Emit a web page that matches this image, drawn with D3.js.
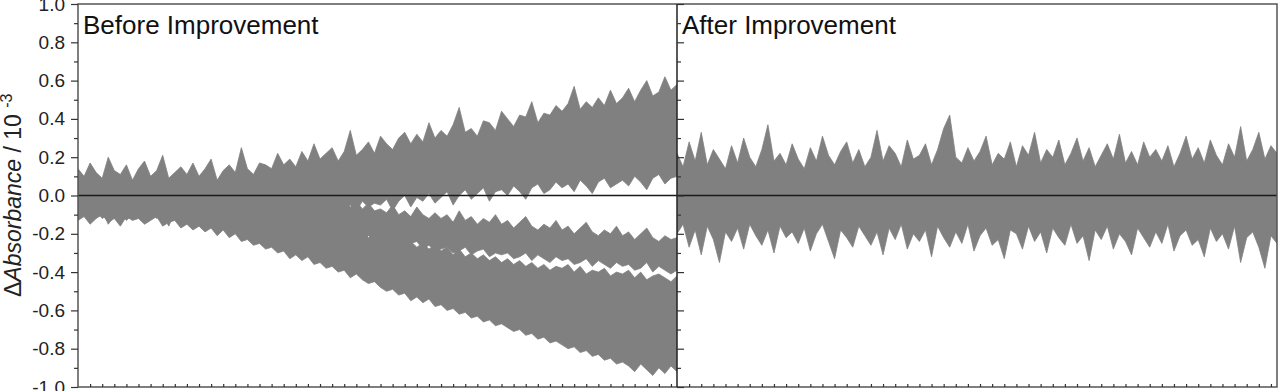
<!DOCTYPE html>
<html>
<head>
<meta charset="utf-8">
<script src="https://cdn.jsdelivr.net/npm/d3@7"></script>
<style>
  html, body { margin: 0; padding: 0; background: #fff; }
  svg { display: block; font-family: "Liberation Sans", Arial, sans-serif; }
</style>
</head>
<body>
<div id="page"></div>
<script>
// panel titles and axis ticks
var panelTitles = [ "Before Improvement", "After Improvement" ];
var yMajorTicks = [ -1.0, -0.8, -0.6, -0.4, -0.2, 0.0, 0.2, 0.4, 0.6, 0.8, 1.0 ];
var yMinorTicks = [ -0.9, -0.7, -0.5, -0.3, -0.1, 0.1, 0.3, 0.5, 0.7, 0.9 ];

// band edges, 100 samples per panel, in 1/100 of the axis unit
// before: upper group of traces
var beforeUpHi = [
  14,10,17,12,9,20,13,11,16,8, 14,18,10,13,21,9,12,15,11,17,
  10,14,19,8,13,16,12,25,14,11, 17,16,14,22,16,19,15,23,18,27,
  19,22,25,18,23,34,21,24,28,22, 31,27,24,30,33,27,32,28,38,30,
  34,31,37,46,33,35,31,39,38,34, 44,40,36,42,41,49,38,43,42,47,
  44,48,57,45,49,46,51,47,55,48, 51,56,49,55,60,52,54,62,55,58 ];
var beforeUpLo = [
  -12,-9,-14,-10,-8,-15,-11,-9,-13,-10, -11,-14,-8,-12,-10,-16,-9,-12,-11,-13,
  -10,-13,-9,-15,-11,-12,-8,-14,-10,-12, -9,-13,-8,-11,-7,-12,-9,-6,-10,-8,
  -7,-11,-6,-4,-9,-5,-8,-3,-6,-4, -5,-2,-8,-3,0,-6,-1,-3,1,-4,
  -1,2,-5,0,3,-2,1,4,-3,2, 3,0,5,2,-2,4,6,1,3,7,
  4,6,2,8,5,1,7,9,4,6, 8,5,10,7,3,9,11,6,9,10 ];
// before: lower group, top trace
var beforeMidHi = [
  -3,-1,-4,-2,0,-3,-2,-1,-4,-2, -2,-4,-1,-3,-2,0,-3,-2,-1,-4,
  -2,-3,-1,-4,-2,-3,-1,-2,-4,-3, 3,1,4,0,2,0,-2,1,-3,-1,
  -3,0,-5,-2,-4,-6,-3,-7,-4,-8, -7,-9,-5,-10,-8,-11,-6,-10,-12,-9,
  -12,-10,-14,-8,-13,-11,-15,-12,-14,-10, -15,-13,-17,-14,-11,-16,-18,-15,-17,-13,
  -18,-16,-20,-17,-14,-19,-21,-18,-20,-16, -21,-19,-23,-20,-17,-22,-24,-21,-23,-22 ];
var beforeMidLo = [
  -10,-9,-11,-8,-12,-10,-9,-11,-10,-8, -11,-10,-12,-9,-10,-11,-8,-12,-10,-9,
  -12,-10,-13,-11,-9,-12,-10,-14,-11,-12, -13,-12,-15,-14,-17,-15,-18,-16,-19,-17,
  -19,-18,-21,-19,-23,-20,-22,-24,-21,-23, -24,-22,-26,-23,-27,-25,-24,-28,-26,-29,
  -28,-27,-30,-29,-27,-31,-29,-28,-32,-30, -31,-30,-33,-32,-30,-34,-31,-33,-35,-32,
  -34,-33,-36,-35,-33,-37,-34,-36,-38,-35, -37,-36,-39,-38,-35,-40,-37,-39,-41,-39 ];
// before: lower group, bulk of traces
var beforeLowHi = [
  -2,-4,-1,-3,-5,-2,-3,-1,-4,-2, -3,-5,-2,-4,-3,-6,-2,-4,-5,-3,
  -4,-6,-3,-5,-7,-5,-8,-6,-9,-7, -9,-11,-8,-12,-10,-13,-11,-15,-12,-14,
  -16,-13,-18,-15,-19,-17,-21,-18,-22,-20, -23,-21,-25,-22,-26,-24,-27,-25,-28,-26,
  -29,-27,-31,-28,-32,-30,-33,-31,-34,-32, -35,-33,-36,-34,-37,-35,-38,-36,-39,-37,
  -38,-36,-40,-37,-41,-39,-40,-38,-42,-40, -41,-39,-43,-40,-44,-42,-41,-43,-45,-42 ];
var beforeLowLo = [
  -13,-11,-15,-12,-10,-14,-12,-16,-11,-13, -12,-15,-13,-11,-16,-14,-13,-17,-15,-18,
  -16,-19,-17,-21,-18,-22,-20,-24,-23,-26, -25,-28,-27,-30,-29,-33,-31,-34,-32,-36,
  -35,-38,-37,-40,-39,-43,-41,-44,-46,-45, -48,-50,-49,-52,-51,-55,-53,-56,-54,-58,
  -57,-60,-59,-62,-61,-64,-63,-66,-65,-68, -67,-69,-71,-70,-73,-72,-75,-74,-77,-76,
  -78,-80,-79,-82,-81,-84,-83,-86,-85,-88, -87,-89,-92,-88,-91,-94,-90,-93,-89,-92 ];
// after: all traces
var afterHi = [
  22,15,28,18,33,16,24,19,14,26, 17,30,20,15,24,37,18,22,16,27,
  19,14,25,18,31,21,16,23,28,17, 24,15,20,34,18,26,22,15,29,19,
  21,27,16,24,35,42,20,17,25,18, 23,31,16,22,19,28,15,26,21,33,
  17,24,20,29,16,22,30,18,25,15, 21,27,19,32,17,23,16,28,20,24,
  18,26,15,22,31,19,25,17,29,21, 16,27,20,36,18,24,33,19,26,22 ];
var afterLo = [
  -20,-15,-27,-18,-31,-16,-23,-35,-19,-24, -17,-28,-15,-21,-26,-18,-30,-16,-22,-19,
  -25,-17,-29,-20,-15,-24,-33,-18,-22,-27, -16,-21,-26,-19,-31,-17,-23,-15,-28,-20,
  -24,-18,-32,-16,-22,-27,-19,-25,-15,-29, -21,-17,-26,-23,-33,-18,-20,-28,-16,-24,
  -19,-30,-17,-22,-26,-15,-25,-21,-34,-18, -23,-16,-28,-20,-24,-31,-17,-22,-27,-19,
  -25,-15,-29,-21,-18,-26,-23,-32,-17,-24, -20,-28,-16,-35,-22,-19,-27,-38,-21,-25 ];

(function() {

  "use strict";

  var W = 1282,
    H = 391,
    top = 4,
    bottom = 387,
    edges = [ 78, 677, 1277 ],
    grey = "#808080",
    ink = "#222";

  var svg = d3.select( "#page" ).append( "svg" )
    .attr( "width", W )
    .attr( "height", H );

  var y = d3.scaleLinear()
    .domain( [ -1, 1 ] )
    .range( [ bottom, top ] );

  var xs = [
    d3.scaleLinear().domain( [ 0, 99 ] ).range( [ edges[0], edges[1] ] ),
    d3.scaleLinear().domain( [ 0, 99 ] ).range( [ edges[1], edges[2] ] )
  ];

  var bands = [
    [ [ beforeUpHi, beforeUpLo ], [ beforeMidHi, beforeMidLo ], [ beforeLowHi, beforeLowLo ] ],
    [ [ afterHi, afterLo ] ]
  ];

  /* * * * * * * * * * * * * * * * * * * */

  var defs = svg.append( "defs" );

  bands.forEach( function( set, p ) {

    defs.append( "clipPath" )
      .attr( "id", "clip" + p )
      .append( "rect" )
      .attr( "x", edges[p] )
      .attr( "y", top )
      .attr( "width", edges[p + 1] - edges[p] )
      .attr( "height", bottom - top );

    var area = d3.area()
      .x( function( d, i ) { return xs[p]( i ); } )
      .y0( function( d ) { return y( d[1] / 100 ); } )
      .y1( function( d ) { return y( d[0] / 100 ); } );

    var g = svg.append( "g" )
      .attr( "clip-path", "url(#clip" + p + ")" );

    g.selectAll( "path" )
      .data( set )
      .enter()
      .append( "path" )
      .attr( "d", function( b ) { return area( d3.zip( b[0], b[1] ) ); } )
      .attr( "fill", grey )
      .attr( "stroke", grey )
      .attr( "stroke-width", 0.8 );

  });

  /* * * * * * * * * * * * * * * * * * * */

  // zero line
  svg.append( "line" )
    .attr( "x1", edges[0] )
    .attr( "x2", edges[2] )
    .attr( "y1", y( 0 ) )
    .attr( "y2", y( 0 ) )
    .attr( "stroke", "#1a1a1a" )
    .attr( "stroke-width", 1.6 );

  // frame and separator
  svg.append( "rect" )
    .attr( "x", edges[0] )
    .attr( "y", top )
    .attr( "width", edges[2] - edges[0] )
    .attr( "height", bottom - top )
    .attr( "fill", "none" )
    .attr( "stroke", "#555" )
    .attr( "stroke-width", 1.5 );

  svg.append( "line" )
    .attr( "x1", edges[1] )
    .attr( "x2", edges[1] )
    .attr( "y1", top )
    .attr( "y2", bottom )
    .attr( "stroke", "#222" )
    .attr( "stroke-width", 1.5 );

  /* * * * * * * * * * * * * * * * * * * */

  function styleAxis( g ) {
    g.select( ".domain" ).remove();
    g.selectAll( ".tick line" )
      .attr( "stroke", "#333" )
      .attr( "stroke-width", 1.2 );
    g.selectAll( ".tick text" )
      .attr( "fill", ink )
      .style( "font-size", "19px" )
      .style( "font-family", "\"Liberation Sans\", Arial, sans-serif" );
  }

  svg.append( "g" )
    .attr( "transform", "translate(" + edges[0] + ",0)" )
    .call( d3.axisLeft( y ).tickValues( yMajorTicks ).tickSize( 7 ).tickPadding( 6 )
      .tickFormat( function( d ) { return d.toFixed( 1 ); } ) )
    .call( styleAxis );

  svg.append( "g" )
    .attr( "transform", "translate(" + edges[0] + ",0)" )
    .call( d3.axisLeft( y ).tickValues( yMinorTicks ).tickSize( 4 ).tickFormat( "" ) )
    .call( styleAxis );

  svg.append( "g" )
    .attr( "transform", "translate(" + edges[1] + ",0)" )
    .call( d3.axisRight( y ).tickValues( yMajorTicks ).tickSize( 7 ).tickFormat( "" ) )
    .call( styleAxis );

  svg.append( "g" )
    .attr( "transform", "translate(" + edges[1] + ",0)" )
    .call( d3.axisRight( y ).tickValues( yMinorTicks ).tickSize( 4 ).tickFormat( "" ) )
    .call( styleAxis );

  xs.forEach( function( x ) {
    svg.append( "g" )
      .attr( "transform", "translate(0," + bottom + ")" )
      .call( d3.axisTop( x ).tickValues( d3.range( 2, 99, 2 ) ).tickSize( 3 ).tickFormat( "" ) )
      .call( styleAxis );
  });

  /* * * * * * * * * * * * * * * * * * * */

  svg.selectAll( ".panel-title" )
    .data( panelTitles )
    .enter()
    .append( "text" )
    .attr( "class", "panel-title" )
    .attr( "x", function( d, i ) { return edges[i] + 5; } )
    .attr( "y", 34 )
    .attr( "fill", "#111" )
    .style( "font-size", "26px" )
    .text( function( d ) { return d; } );

  var label = svg.append( "text" )
    .attr( "transform", "translate(21,297) rotate(-90)" )
    .attr( "fill", ink )
    .style( "font-size", "23px" );

  label.append( "tspan" ).text( "\u0394" );
  label.append( "tspan" ).style( "font-style", "italic" ).text( "Absorbance" );
  label.append( "tspan" ).text( " / 10 " );
  label.append( "tspan" ).attr( "dy", -9 ).style( "font-size", "16px" ).text( "-3" );

})();
</script>
</body>
</html>
